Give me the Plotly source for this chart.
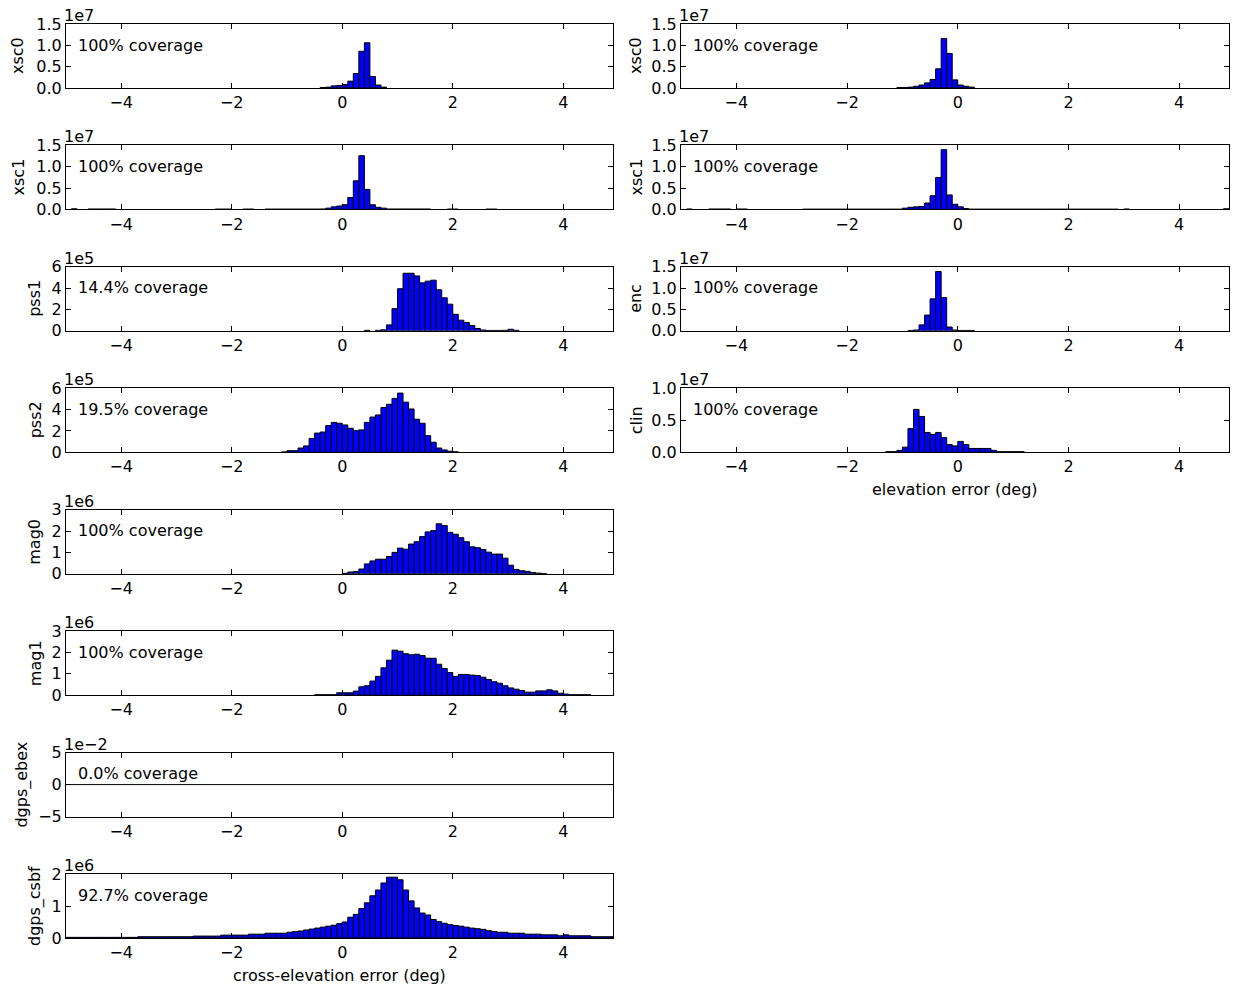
import plotly.graph_objects as go

W, H = 1233, 987
BIN_W = 0.1
X_MIN, X_MAX = -5.0, 4.9
X_TICKS = [-4, -2, 0, 2, 4]
X_TICK_TEXT = ["\u22124", "\u22122", "0", "2", "4"]

# ---------------- data (counts in units of the panel's offset, bins of 0.1 deg) -------------
# cross-elevation column
xsc0_xel_start = -0.4
xsc0_xel = [0.01, 0.02, 0.05, 0.06, 0.08, 0.16, 0.34, 0.86, 1.06, 0.27, 0.07, 0.02]

xsc1_xel_start = -5.0
xsc1_xel = [0, 0.015, 0, 0, 0.01, 0.01, 0.01, 0.01, 0.01, 0, 0, 0, 0, 0, 0, 0, 0, 0, 0, 0,
            0, 0, 0, 0, 0, 0, 0, 0.008, 0.008, 0.008, 0, 0, 0.008, 0.008, 0, 0, 0.008, 0.008, 0.008, 0.008,
            0.008, 0.008, 0.008, 0.008, 0.008, 0.008, 0.01, 0.03, 0.06, 0.08, 0.11, 0.28, 0.67, 1.26, 0.47, 0.11, 0.05, 0.03, 0.01, 0.01,
            0.01, 0.01, 0.01, 0.01, 0.01, 0.01, 0, 0, 0, 0.008, 0.008, 0, 0, 0, 0, 0, 0.008, 0.008, 0, 0,
            0, 0, 0, 0, 0, 0, 0, 0, 0, 0, 0, 0, 0, 0, 0, 0, 0, 0, 0]

pss1_xel_start = 0.4
pss1_xel = [0.05, 0, 0.05, 0.1, 0.56, 2.08, 3.95, 5.4, 5.4, 5.15, 4.5, 4.66, 4.75, 3.85, 3.1, 2.5,
            1.55, 1.0, 0.78, 0.5, 0.22, 0.08, 0.04, 0.04, 0.04, 0.05, 0.15, 0.05]

pss2_xel_start = -1.1
pss2_xel = [0.03, 0.15, 0.15, 0.4, 0.6, 1.3, 1.8, 1.9, 2.5, 2.8, 2.72, 2.56, 2.25, 2.03, 2.1, 2.8,
            3.3, 3.5, 4.2, 4.5, 5.05, 5.55, 4.7, 4.06, 3.1, 2.72, 1.56, 0.94, 0.4, 0.22, 0.1, 0.05]

mag0_xel_start = 0.0
mag0_xel = [0.02, 0.08, 0.1, 0.22, 0.46, 0.6, 0.68, 0.68, 0.81, 1.0, 1.2, 1.15, 1.39, 1.5, 1.74, 1.96,
            2.02, 2.34, 2.26, 1.94, 1.85, 1.69, 1.5, 1.26, 1.22, 1.14, 1.01, 0.92, 0.92, 0.73, 0.4, 0.2,
            0.14, 0.11, 0.06, 0.03, 0.01]

mag1_xel_start = -0.5
mag1_xel = [0.02, 0.02, 0.02, 0.02, 0.11, 0.11, 0.11, 0.19, 0.39, 0.44, 0.66, 0.88, 1.28, 1.64, 2.11, 2.06,
            1.94, 1.89, 1.92, 1.86, 1.73, 1.73, 1.45, 1.25, 1.06, 0.88, 0.97, 0.97, 0.94, 0.92, 0.84, 0.73,
            0.63, 0.56, 0.44, 0.34, 0.28, 0.22, 0.14, 0.14, 0.2, 0.2, 0.25, 0.2, 0.09, 0.05, 0.02, 0.02,
            0.02, 0.02]

dgps_ebex_xel_start = -5.0
dgps_ebex_xel = []  # no data: 0.0% coverage

dgps_csbf_xel_start = -5.0
dgps_csbf_xel = [0.02] * 13 + [0.04] * 10 + [0.06] * 5 + [0.09] * 5 + [0.12] * 3 + [0.15] * 4 + [
    0.18, 0.2, 0.22, 0.25, 0.28, 0.31, 0.34, 0.37, 0.4, 0.45,
    0.5, 0.65, 0.74, 0.92, 1.1, 1.32, 1.5, 1.72, 1.9, 1.9,
    1.82, 1.5, 1.16, 0.94, 0.78, 0.72, 0.58, 0.51, 0.46, 0.42,
    0.39, 0.37, 0.34, 0.31, 0.29, 0.27, 0.23, 0.2, 0.18, 0.18,
    0.15, 0.15, 0.15, 0.12, 0.12, 0.12, 0.1, 0.1, 0.1, 0.07,
    0.1, 0.07, 0.07, 0.07, 0.07, 0.04, 0.04, 0.04, 0.04]

# elevation column
xsc0_el_start = -1.1
xsc0_el = [0.01, 0.01, 0.02, 0.04, 0.07, 0.12, 0.2, 0.45, 1.16, 0.81, 0.19, 0.07, 0.04, 0.02]

xsc1_el_start = -5.0
xsc1_el = [0, 0.01, 0, 0, 0, 0.01, 0.01, 0.01, 0.01, 0, 0.01, 0.01, 0, 0, 0, 0, 0, 0, 0, 0,
           0, 0, 0.006, 0.006, 0.006, 0.006, 0.006, 0.006, 0.006, 0.006, 0.006, 0.006, 0.006, 0.006, 0.006, 0.006, 0.006, 0.006, 0.006, 0.006,
           0.03, 0.05, 0.06, 0.07, 0.15, 0.32, 0.75, 1.40, 0.34, 0.12, 0.06, 0.02, 0.006, 0.006, 0.006, 0.006, 0.006, 0.006, 0.006, 0.006,
           0.006, 0.006, 0.006, 0.006, 0.006, 0.006, 0.006, 0.006, 0.006, 0.006, 0.006, 0.006, 0.006, 0.006, 0.006, 0.006, 0.006, 0.006, 0.006, 0,
           0.01, 0, 0, 0, 0, 0, 0, 0, 0, 0, 0, 0, 0, 0, 0, 0, 0, 0, 0.015]

enc_el_start = -0.9
enc_el = [0.01, 0.02, 0.14, 0.37, 0.75, 1.39, 0.78, 0.09, 0.02, 0.01, 0.01, 0.01]

clin_el_start = -1.3
clin_el = [0.01, 0.01, 0.03, 0.08, 0.37, 0.67, 0.56, 0.31, 0.28, 0.31, 0.23, 0.12, 0.1, 0.17, 0.12,
           0.06, 0.06, 0.06, 0.06, 0.03, 0.01, 0.01, 0.01, 0.01, 0.01]

# panel labels
sensor_names_xel = ["xsc0", "xsc1", "pss1", "pss2", "mag0", "mag1", "dgps_ebex", "dgps_csbf"]
coverage_xel = ["100% coverage", "100% coverage", "14.4% coverage", "19.5% coverage",
                "100% coverage", "100% coverage", "0.0% coverage", "92.7% coverage"]
offset_xel = ["1e7", "1e7", "1e5", "1e5", "1e6", "1e6", "1e\u22122", "1e6"]
sensor_names_el = ["xsc0", "xsc1", "enc", "clin"]
coverage_el = ["100% coverage"] * 4
offset_el = ["1e7", "1e7", "1e7", "1e7"]

# y tick definitions
yt_15 = ([0, 0.5, 1.0, 1.5], ["0.0", "0.5", "1.0", "1.5"])
yt_6 = ([0, 2, 4, 6], ["0", "2", "4", "6"])
yt_3 = ([0, 1, 2, 3], ["0", "1", "2", "3"])
yt_5 = ([-5, 0, 5], ["\u22125", "0", "5"])
yt_2 = ([0, 1, 2], ["0", "1", "2"])
yt_10 = ([0, 0.5, 1.0], ["0.0", "0.5", "1.0"])

# ---------------- layout helpers -------------
FONT = "DejaVu Sans"
FS = 16
COL_X = [(66, 613), (681, 1229)]
ROW_TOP0, ROW_STEP, AX_H = 24, 121.43, 64
YLAB_X = {0: {"xsc0": 18, "xsc1": 18, "pss1": 35, "pss2": 35, "mag0": 35, "mag1": 35,
              "dgps_ebex": 22, "dgps_csbf": 35},
          1: {"xsc0": 636, "xsc1": 636, "enc": 636, "clin": 636}}

fig = go.Figure()
layout = dict(width=W, height=H, margin=dict(l=0, r=0, t=0, b=0, autoexpand=False),
              paper_bgcolor="white", plot_bgcolor="white", showlegend=False,
              barmode="overlay", font=dict(family=FONT, size=FS, color="black"))
annotations = []

panels = [
    (0, 0, xsc0_xel_start, xsc0_xel, yt_15),
    (0, 1, xsc1_xel_start, xsc1_xel, yt_15),
    (0, 2, pss1_xel_start, pss1_xel, yt_6),
    (0, 3, pss2_xel_start, pss2_xel, yt_6),
    (0, 4, mag0_xel_start, mag0_xel, yt_3),
    (0, 5, mag1_xel_start, mag1_xel, yt_3),
    (0, 6, dgps_ebex_xel_start, dgps_ebex_xel, yt_5),
    (0, 7, dgps_csbf_xel_start, dgps_csbf_xel, yt_2),
    (1, 0, xsc0_el_start, xsc0_el, yt_15),
    (1, 1, xsc1_el_start, xsc1_el, yt_15),
    (1, 2, enc_el_start, enc_el, yt_15),
    (1, 3, clin_el_start, clin_el, yt_10),
]

for i, (col, row, start, vals, (ytv, ytt)) in enumerate(panels):
    idx = i + 1
    xs = "x" if idx == 1 else f"x{idx}"
    ys = "y" if idx == 1 else f"y{idx}"
    xl, xr = COL_X[col]
    top = ROW_TOP0 + ROW_STEP * row
    bot = top + AX_H
    name = sensor_names_xel[row] if col == 0 else sensor_names_el[row]
    cov = coverage_xel[row] if col == 0 else coverage_el[row]
    off = offset_xel[row] if col == 0 else offset_el[row]

    if vals:
        centers = [start + BIN_W * k + BIN_W / 2 for k in range(len(vals))]
        hv = [v if v > 0 else None for v in vals]
        fig.add_trace(go.Bar(x=centers, y=hv, width=BIN_W, xaxis=xs, yaxis=ys,
                             marker=dict(color="#0000ff", line=dict(color="black", width=1))))
    else:
        # empty histogram: only the zero-height bar edges remain
        fig.add_trace(go.Scatter(x=[X_MIN, X_MAX], y=[0, 0], mode="lines", xaxis=xs, yaxis=ys,
                                 line=dict(color="black", width=1)))

    axcommon = dict(showline=True, linecolor="black", linewidth=1, mirror="ticks",
                    ticks="inside", ticklen=5, tickcolor="black", showgrid=False,
                    zeroline=False, tickfont=dict(family=FONT, size=FS, color="black"),
                    fixedrange=True, automargin=False)
    layout["xaxis" if idx == 1 else f"xaxis{idx}"] = dict(
        domain=[xl / W, xr / W], range=[X_MIN, X_MAX], anchor=ys,
        tickmode="array", tickvals=X_TICKS, ticktext=X_TICK_TEXT, **axcommon)
    yr = [ytv[0], ytv[-1]]
    layout["yaxis" if idx == 1 else f"yaxis{idx}"] = dict(
        domain=[1 - bot / H, 1 - top / H], range=yr, anchor=xs,
        tickmode="array", tickvals=ytv, ticktext=ytt, **axcommon)

    xdom = xs + " domain"
    ydom = ys + " domain"
    annotations.append(dict(text=off, xref=xdom, yref=ydom, x=0, y=1, xanchor="left",
                            yanchor="bottom", showarrow=False, yshift=-3, xshift=-4,
                            font=dict(family=FONT, size=FS, color="black")))
    annotations.append(dict(text=cov, xref=xdom, yref=ydom, x=0.02, y=0.67, xanchor="left",
                            yanchor="middle", showarrow=False, xshift=-1,
                            font=dict(family=FONT, size=FS, color="black")))
    annotations.append(dict(text=name, xref="paper", yref="paper", x=YLAB_X[col][name] / W,
                            y=1 - (top + bot) / 2 / H, xanchor="center", yanchor="middle",
                            textangle=-90, showarrow=False,
                            font=dict(family=FONT, size=FS, color="black")))

annotations.append(dict(text="cross-elevation error (deg)", xref="paper", yref="paper",
                        x=(COL_X[0][0] + COL_X[0][1]) / 2 / W, y=1 - 975 / H,
                        xanchor="center", yanchor="middle", showarrow=False,
                        font=dict(family=FONT, size=FS, color="black")))
annotations.append(dict(text="elevation error (deg)", xref="paper", yref="paper",
                        x=(COL_X[1][0] + COL_X[1][1]) / 2 / W, y=1 - 489 / H,
                        xanchor="center", yanchor="middle", showarrow=False,
                        font=dict(family=FONT, size=FS, color="black")))
layout["annotations"] = annotations
fig.update_layout(**layout)
fig.write_html("out.html")
